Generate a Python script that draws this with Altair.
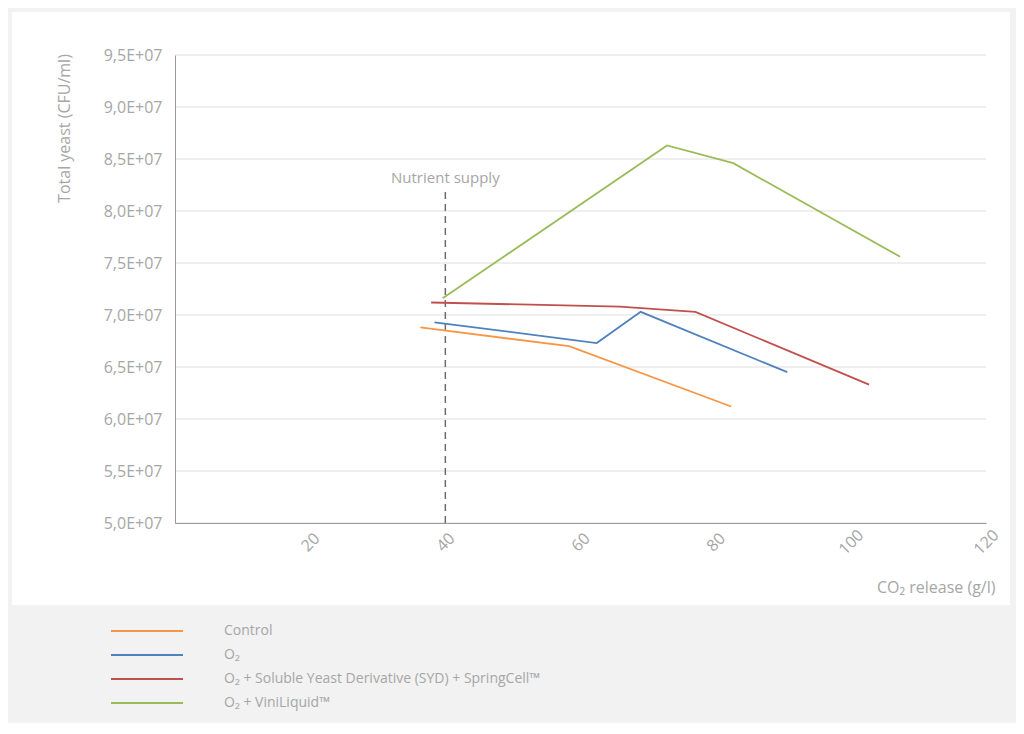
import altair as alt
import pandas as pd

# ---- data ----
series_names = [
    "Control",
    "O₂",
    "O₂ + Soluble Yeast Derivative (SYD) + SpringCell™",
    "O₂ + ViniLiquid™",
]
series_colors = ["#F79646", "#4F81BD", "#C0504D", "#9BBB59"]

control_x = [36.3, 58.3, 82.3]
control_y = [6.88e7, 6.70e7, 6.12e7]
o2_x = [38.4, 62.4, 68.9, 90.6]
o2_y = [6.93e7, 6.73e7, 7.03e7, 6.45e7]
syd_x = [37.9, 65.8, 77.0, 102.7]
syd_y = [7.12e7, 7.08e7, 7.03e7, 6.33e7]
vini_x = [39.6, 72.8, 82.6, 107.3]
vini_y = [7.16e7, 8.63e7, 8.46e7, 7.56e7]

nutrient_label = "Nutrient supply"
nutrient_x = [40]
nutrient_y0 = [5.0e7]
nutrient_y1 = [8.2e7]
nutrient_text_y = [8.32e7]

x_ticks = [20, 40, 60, 80, 100, 120]
y_ticks = [5.0e7, 5.5e7, 6.0e7, 6.5e7, 7.0e7, 7.5e7, 8.0e7, 8.5e7, 9.0e7, 9.5e7]

x_title = "CO₂ release (g/l)"
y_title = "Total yeast (CFU/ml)"

# ---- tables ----
rows = []
for name, xs, ys in zip(series_names,
                        [control_x, o2_x, syd_x, vini_x],
                        [control_y, o2_y, syd_y, vini_y]):
    for i, (xv, yv) in enumerate(zip(xs, ys)):
        rows.append({"series": name, "x": xv, "y": yv, "i": i})
df = pd.DataFrame(rows)
grid_df = pd.DataFrame({"y": y_ticks})
nut_df = pd.DataFrame({"x": nutrient_x, "y": nutrient_y0, "y2": nutrient_y1,
                       "ty": nutrient_text_y, "label": [nutrient_label]})

GRAY = "#a6a6a6"
FONT = "Open Sans"

xscale = alt.Scale(domain=[0, 120], nice=False, zero=False)
yscale = alt.Scale(domain=[5.0e7, 9.5e7], nice=False, zero=False)

x_axis = alt.Axis(values=x_ticks, labelAngle=315, labelAlign="center",
                  labelBaseline="middle", labelPadding=19, ticks=False, tickSize=0,
                  grid=False, title=x_title, titleX=820, titleY=64,
                  titleAlign="right", titleBaseline="middle", zindex=2)
y_axis = alt.Axis(values=y_ticks, grid=False, ticks=False, tickSize=0, labelPadding=13,
                  labelExpr="replace(format(datum.value / 1e7, '.1f'), '.', ',') + 'E+07'",
                  title=y_title, titleAngle=270, titleX=-111, titleY=73,
                  titleAlign="center", titleBaseline="middle", zindex=2)

panel = alt.Chart(pd.DataFrame({"a": [0]})).mark_rect(color="white", clip=False).encode(
    x=alt.value(-163), x2=alt.value(835), y=alt.value(-43), y2=alt.value(550)
)

grid = alt.Chart(grid_df).mark_rule(color="#dedede", strokeWidth=1).encode(
    y=alt.Y("y:Q", scale=yscale, axis=y_axis), x=alt.value(0), x2=alt.value(811)
)

rule = alt.Chart(nut_df).mark_rule(color="#6b6b6b", strokeWidth=1.5, strokeDash=[7, 5]).encode(
    x=alt.X("x:Q", scale=xscale, axis=x_axis), y=alt.Y("y:Q", scale=yscale, axis=y_axis),
    y2="y2:Q"
)

text = alt.Chart(nut_df).mark_text(fontSize=15, color=GRAY, font=FONT, align="center",
                                   baseline="middle").encode(
    x=alt.X("x:Q", scale=xscale, axis=x_axis), y=alt.Y("ty:Q", scale=yscale, axis=y_axis),
    text="label:N"
)

lines = alt.Chart(df).mark_line(strokeWidth=1.8).encode(
    x=alt.X("x:Q", scale=xscale, axis=x_axis),
    y=alt.Y("y:Q", scale=yscale, axis=y_axis),
    color=alt.Color("series:N", scale=alt.Scale(domain=series_names, range=series_colors),
                    legend=alt.Legend(orient="none", legendX=-35, legendY=569, title=None,
                                      symbolType="M-6,0H6", symbolSize=144,
                                      symbolStrokeWidth=2, labelOffset=70, labelFontSize=14,
                                      labelColor=GRAY, labelFont=FONT, rowPadding=10,
                                      labelLimit=700, padding=0)),
    order="i:O",
)

chart = alt.layer(panel, grid, rule, text, lines).properties(
    width=811, height=468, autosize="none",
    padding={"left": 167, "top": 47, "right": 30, "bottom": 200},
    background="#f2f2f2",
).configure_view(stroke=None).configure_axis(
    domainColor="#9a9a9a", domainWidth=1, labelColor=GRAY, titleColor=GRAY,
    labelFont=FONT, titleFont=FONT, labelFontSize=16, titleFontSize=16,
    titleFontWeight="normal",
)

chart.save("out.html", embed_options={"renderer": "svg", "actions": False})
